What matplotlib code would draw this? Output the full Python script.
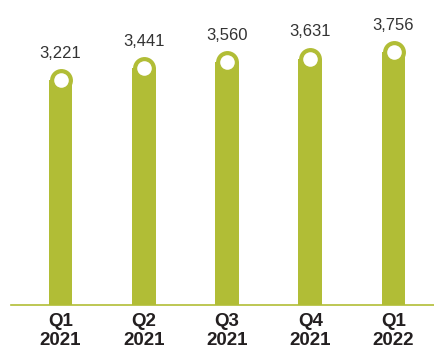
import numpy as np
import matplotlib.pyplot as plt

quarters = ['Q1\n2021', 'Q2\n2021', 'Q3\n2021', 'Q4\n2021', 'Q1\n2022']
values = [3221, 3441, 3560, 3631, 3756]
value_labels = ['3,221', '3,441', '3,560', '3,631', '3,756']

green = '#b1bd36'
base = -1078

plt.rcParams['font.family'] = ['Liberation Sans', 'DejaVu Sans']

fig = plt.figure(figsize=(4.35, 3.48), dpi=100)
ax = fig.add_axes([11 / 435, 43 / 348, 423 / 435, 305 / 348])

x = np.arange(len(values))
vals = np.array(values)
ax.bar(x, vals - base, bottom=base, width=0.285, color=green, zorder=2)
# round caps and white dots at the top of each bar
ax.plot(x, vals, 'o', ms=16.5, color=green, mec='none', zorder=3)
ax.plot(x, vals, 'o', ms=10.5, color='white', mec='none', zorder=4)

for xi, v, lab in zip(x, vals, value_labels):
    ax.annotate(lab, (xi, v), xytext=(0, 14), textcoords='offset points',
                ha='center', va='bottom', fontsize=12, color='#333333')

ax.set_xlim(-0.595, 4.486)
ax.set_ylim(base, 4749)
ax.set_xticks(x)
ax.set_xticklabels(quarters, fontsize=13.5, fontweight='bold', color='#231f20',
                   linespacing=1.1)
ax.tick_params(axis='x', length=0, pad=6)
ax.set_yticks([])
for s in ['top', 'right', 'left']:
    ax.spines[s].set_visible(False)
ax.spines['bottom'].set_color(green)
ax.spines['bottom'].set_linewidth(1.2)

fig.savefig('out.png', dpi=100)
